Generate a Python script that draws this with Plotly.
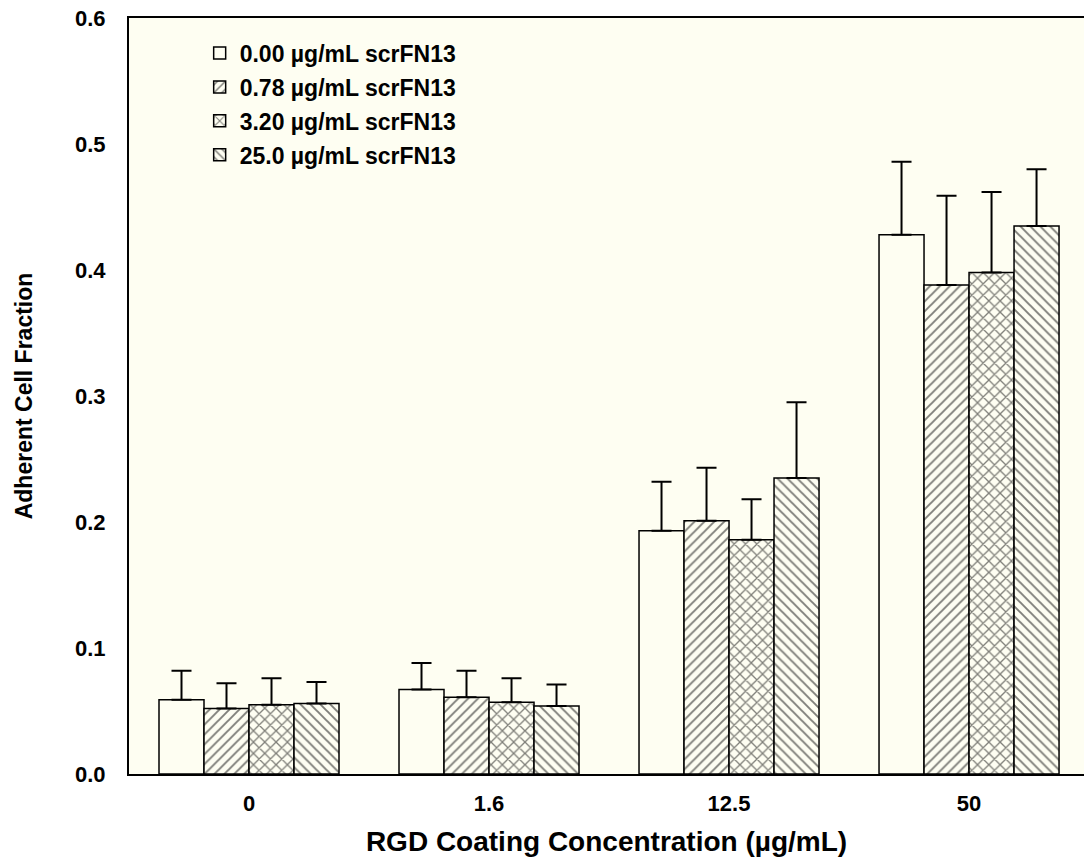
import plotly.graph_objects as go

categories = ["0", "1.6", "12.5", "50"]
series_names = ["0.00 µg/mL scrFN13", "0.78 µg/mL scrFN13",
                "3.20 µg/mL scrFN13", "25.0 µg/mL scrFN13"]
mean_000 = [0.059, 0.067, 0.193, 0.428]
err_000 = [0.023, 0.021, 0.039, 0.058]
mean_078 = [0.052, 0.061, 0.201, 0.388]
err_078 = [0.020, 0.021, 0.042, 0.071]
mean_320 = [0.055, 0.057, 0.186, 0.398]
err_320 = [0.021, 0.019, 0.032, 0.064]
mean_250 = [0.056, 0.054, 0.235, 0.435]
err_250 = [0.017, 0.017, 0.060, 0.045]
y_ticks = [0.0, 0.1, 0.2, 0.3, 0.4, 0.5, 0.6]

means = [mean_000, mean_078, mean_320, mean_250]
errs = [err_000, err_078, err_320, err_250]
patterns = ["", "/", "x", "\\"]
pattern_sizes = [7, 7, 8, 7]
pattern_solidity = [0.2, 0.27, 0.3, 0.27]

CREAM = "#FEFEF2"
FONT = "Liberation Sans, Arial, sans-serif"

fig = go.Figure()
xpos = list(range(len(categories)))
for i in range(4):
    fig.add_trace(go.Bar(
        x=xpos, y=means[i], name=series_names[i],
        legendgroup=str(i),
        marker=dict(
            color=CREAM,
            line=dict(color="black", width=1.5),
            pattern=dict(shape=patterns[i], fgcolor="black", bgcolor=CREAM,
                         size=pattern_sizes[i], solidity=pattern_solidity[i]),
        ),
        error_y=dict(type="data", symmetric=False, array=errs[i],
                     arrayminus=[0] * len(errs[i]),
                     color="black", thickness=2, width=10),
    ))

fig.update_layout(
    width=1084, height=863,
    margin=dict(l=129, r=0, t=18, b=89),
    paper_bgcolor="white", plot_bgcolor=CREAM,
    barmode="group", bargap=0.25, bargroupgap=0,
    font=dict(family=FONT, color="black", size=20, weight="bold"),
    showlegend=True,
    legend=dict(x=0.074, y=0.982, xanchor="left", yanchor="top",
                bgcolor="rgba(0,0,0,0)", borderwidth=0,
                font=dict(size=23, weight="bold", family=FONT),
                traceorder="grouped", tracegroupgap=1),
    xaxis=dict(
        range=[-0.5, 3.479], tickmode="array", tickvals=xpos, ticktext=categories,
        showline=True, linecolor="black", linewidth=2, mirror=True,
        ticks="", showgrid=False, zeroline=False, ticklabelstandoff=9,
        tickfont=dict(size=22, weight="bold"),
        title=dict(text="RGD Coating Concentration (µg/mL)",
                   font=dict(size=28, weight="bold"), standoff=16),
    ),
    yaxis=dict(
        range=[0, 0.6], tickmode="array", tickvals=y_ticks,
        ticktext=[f"{v:.1f}" for v in y_ticks],
        showline=True, linecolor="black", linewidth=2, mirror=False,
        ticks="", showgrid=False, zeroline=False, ticklabelstandoff=17,
        tickfont=dict(size=22, weight="bold"),
        title=dict(text="Adherent Cell Fraction",
                   font=dict(size=23, weight="bold"), standoff=36),
    ),
)

fig.write_html("out.html")
